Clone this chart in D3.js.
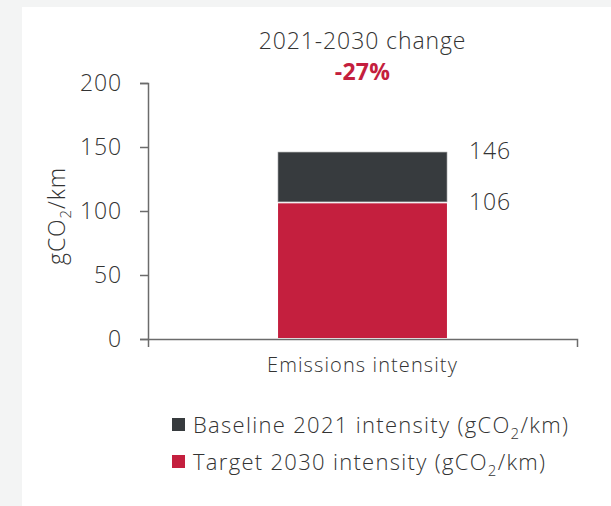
<!DOCTYPE html>
<html>
<head>
<meta charset="utf-8">
<script src="https://cdn.jsdelivr.net/npm/d3@7"></script>
<style>
  body { margin: 0; background: #f3f4f4; }
  text { font-family: "Open Sans", sans-serif; font-weight: 300; fill: #333; letter-spacing: 0.9px; }
</style>
</head>
<body>
<script>
// DATA
const categories = ['Emissions intensity']
const baseline = [146]
const target = [106]
const yTicks = [0, 50, 100, 150, 200]
const changeLabel = '-27%'
const legendLabels = ['Baseline 2021 intensity', 'Target 2030 intensity']

// COLORS
const dark = '#373b3e'
const red = '#c41f3e'
const axisColor = '#6b6b6b'

const W = 611, H = 506
const margin = {top: 83, right: 34, bottom: 167, left: 148}

const svg = d3.select('body').append('svg')
    .attr('width', W)
    .attr('height', H)

// white panel
svg.append('rect')
    .attr('x', 22).attr('y', 7)
    .attr('width', W - 22).attr('height', H - 7)
    .attr('fill', '#fff')

const x = d3.scaleBand()
    .domain(categories)
    .range([margin.left, W - margin.right])
    .paddingInner(0.435)
    .paddingOuter(0.435)

const y = d3.scaleLinear()
    .domain([0, 200])
    .range([H - margin.bottom, margin.top])

// axes
const yAxis = svg.append('g')
    .attr('transform', `translate(${margin.left},0)`)
    .call(d3.axisLeft(y).tickValues(yTicks).tickSize(8).tickPadding(18))
yAxis.selectAll('text').style('font-size', '23px')

const xAxis = svg.append('g')
    .attr('transform', `translate(0,${H - margin.bottom})`)
    .call(d3.axisBottom(x).tickSizeInner(0).tickSizeOuter(8).tickPadding(19))
xAxis.selectAll('text').style('font-size', '20px').style('letter-spacing', '1.1px')

svg.selectAll('.domain, .tick line')
    .attr('stroke', axisColor)
    .attr('stroke-width', 1.5)

// bars: target at the bottom, baseline stacked on top
let rows = categories.map(function(c, i) {
  return {cat: c, base: baseline[i], target: target[i]}
})

svg.selectAll('rect.target')
    .data(rows)
    .enter().append('rect')
        .attr('class', 'target')
        .attr('x', d => x(d.cat))
        .attr('width', x.bandwidth())
        .attr('y', d => y(d.target))
        .attr('height', d => y(0) - y(d.target) - 1)
        .attr('fill', red)

svg.selectAll('rect.base')
    .data(rows)
    .enter().append('rect')
        .attr('class', 'base')
        .attr('x', d => x(d.cat))
        .attr('width', x.bandwidth())
        .attr('y', d => y(d.base))
        .attr('height', d => y(d.target) - y(d.base) - 1.5)
        .attr('fill', dark)
        .attr('stroke', '#8a8c8e')
        .attr('stroke-width', 0.6)

// value labels
svg.selectAll('text.val')
    .data(rows.flatMap(d => [d.base, d.target].map(v => ({cat: d.cat, v: v}))))
    .enter().append('text')
        .attr('class', 'val')
        .attr('x', d => x(d.cat) + x.bandwidth() + 22)
        .attr('y', d => y(d.v) + 7)
        .style('font-size', '23px')
        .text(d => d.v)

// y axis title
const yt = svg.append('text')
    .attr('transform', `translate(65,${(y(0) + y(200)) / 2 + 5}) rotate(-90)`)
    .attr('text-anchor', 'middle')
    .style('font-size', '23px')
yt.append('tspan').text('gCO')
yt.append('tspan').attr('dy', 6).style('font-size', '15px').text('2')
yt.append('tspan').attr('dy', -6).text('/km')

// header
const cx = x(categories[0]) + x.bandwidth() / 2
svg.append('text')
    .attr('x', cx).attr('y', 49)
    .attr('text-anchor', 'middle')
    .style('font-size', '23px')
    .text('2021-2030 change')
svg.append('text')
    .attr('x', cx).attr('y', 80)
    .attr('text-anchor', 'middle')
    .style('font-size', '23px')
    .style('font-weight', 'bold')
    .style('letter-spacing', '0.3px')
    .style('fill', red)
    .text(changeLabel)

// legend
const legend = svg.append('g')
    .attr('transform', 'translate(172,418)')

legend.selectAll('rect')
    .data([dark, red])
    .enter().append('rect')
        .attr('y', (d, i) => i * 37)
        .attr('width', 13)
        .attr('height', 13)
        .attr('fill', d => d)

legend.selectAll('text')
    .data(legendLabels)
    .enter().append('text')
        .attr('x', 21)
        .attr('y', (d, i) => i * 37 + 15)
        .style('font-size', '22px')
        .style('letter-spacing', '1.3px')
        .each(function(d) {
          let t = d3.select(this)
          t.append('tspan').text(d + ' (gCO')
          t.append('tspan').attr('dy', 6).style('font-size', '15px').text('2')
          t.append('tspan').attr('dy', -6).text('/km)')
        })
</script>
</body>
</html>
